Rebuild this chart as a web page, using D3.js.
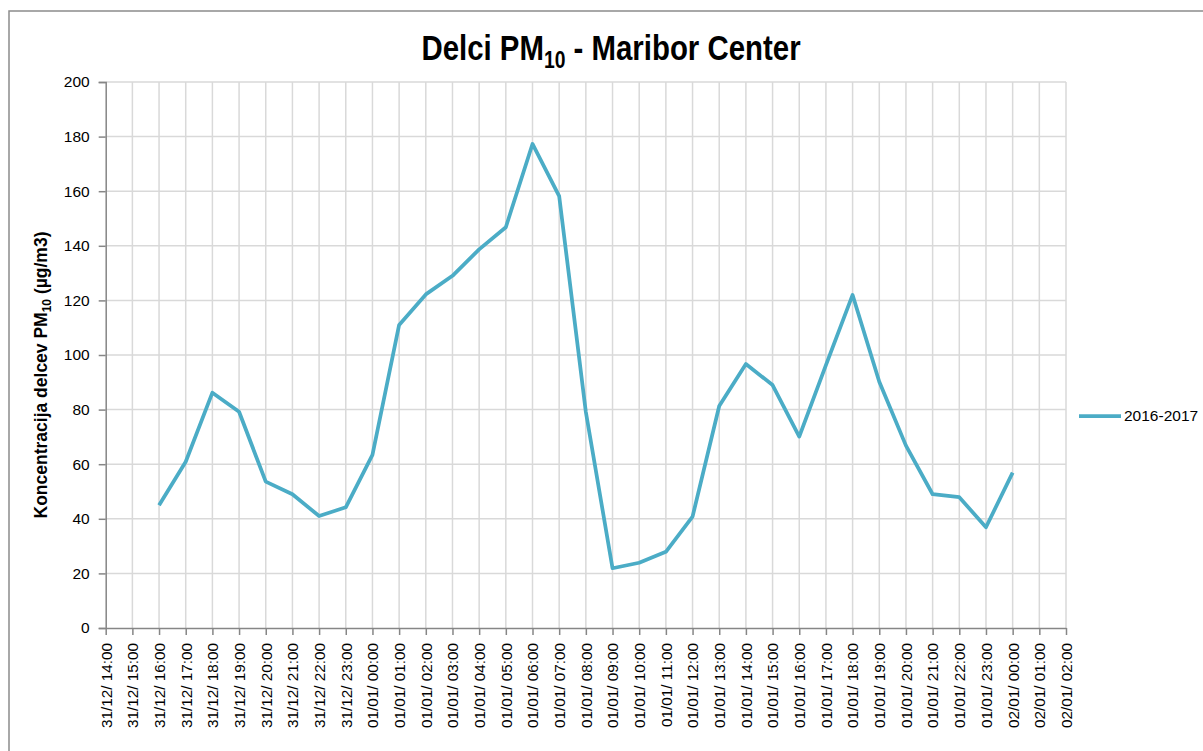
<!DOCTYPE html>
<html>
<head>
<meta charset="utf-8">
<script src="https://cdn.jsdelivr.net/npm/d3@7"></script>
<style>
  body { margin: 0; background: #fff; }
  svg text { font-family: "Liberation Sans", Arial, sans-serif; fill: #000; }
</style>
</head>
<body>
<svg id="chart" width="1203" height="751"></svg>
<script>
// ure (kategorije na osi x)
const hours = [
  "31/12/ 14:00","31/12/ 15:00","31/12/ 16:00","31/12/ 17:00","31/12/ 18:00","31/12/ 19:00",
  "31/12/ 20:00","31/12/ 21:00","31/12/ 22:00","31/12/ 23:00",
  "01/01/ 00:00","01/01/ 01:00","01/01/ 02:00","01/01/ 03:00","01/01/ 04:00","01/01/ 05:00",
  "01/01/ 06:00","01/01/ 07:00","01/01/ 08:00","01/01/ 09:00","01/01/ 10:00","01/01/ 11:00",
  "01/01/ 12:00","01/01/ 13:00","01/01/ 14:00","01/01/ 15:00","01/01/ 16:00","01/01/ 17:00",
  "01/01/ 18:00","01/01/ 19:00","01/01/ 20:00","01/01/ 21:00","01/01/ 22:00","01/01/ 23:00",
  "02/01/ 00:00","02/01/ 01:00","02/01/ 02:00"
]

// PM10 vrednosti (null = ni podatka)
const pm10 = [
  null, null, 45.0, 60.9, 86.2, 79.2, 53.6, 49.0, 41.0, 44.2,
  63.4, 111.0, 122.2, 129.0, 138.7, 146.8, 177.3, 158.2, 79.1, 21.9,
  23.9, 27.9, 40.8, 81.3, 96.7, 89.0, 70.1, 96.3, 122.0, 90.2,
  66.8, 49.0, 47.9, 36.9, 56.9, null, null
]

const yTicks = [0, 20, 40, 60, 80, 100, 120, 140, 160, 180, 200]
const seriesName = "2016-2017"

const svg = d3.select('#chart')
const pLeft = 105.7, pRight = 1066, pTop = 82, pBottom = 628

// okvir
svg.append('rect')
  .attr('x', 9).attr('y', 11)
  .attr('width', 1220).attr('height', 760)
  .attr('fill', 'none').attr('stroke', '#8c8c8c').attr('stroke-width', 1.5)

const x = d3.scalePoint().domain(hours).range([pLeft, pRight])
const y = d3.scaleLinear().domain([0, 200]).range([pBottom, pTop])

// mreza
svg.append('g')
  .selectAll('line')
  .data(yTicks.slice(1))
  .enter().append('line')
  .attr('x1', pLeft).attr('x2', pRight)
  .attr('y1', d => y(d)).attr('y2', d => y(d))
  .attr('stroke', '#d9d9d9').attr('stroke-width', 1.5)

svg.append('g')
  .selectAll('line')
  .data(hours.slice(1))
  .enter().append('line')
  .attr('x1', d => x(d)).attr('x2', d => x(d))
  .attr('y1', pTop).attr('y2', pBottom)
  .attr('stroke', '#d9d9d9').attr('stroke-width', 1.5)

// osi
const yAxis = svg.append('g')
  .attr('transform', `translate(${pLeft},0)`)
  .call(d3.axisLeft(y).tickValues(yTicks).tickSize(7).tickPadding(9))
yAxis.selectAll('text').attr('font-size', '15.5px')
yAxis.selectAll('line, path').attr('stroke', '#868686').attr('stroke-width', 1.5)

const xAxis = svg.append('g')
  .attr('transform', `translate(0,${pBottom})`)
  .call(d3.axisBottom(x).tickSize(7).tickSizeOuter(0))
xAxis.selectAll('line, path').attr('stroke', '#868686').attr('stroke-width', 1.5)
xAxis.selectAll('text')
  .attr('font-size', '15.3px')
  .attr('text-anchor', 'end')
  .attr('transform', 'rotate(-90)')
  .attr('x', -15).attr('y', 0).attr('dy', '0.35em')

// crta
const line = d3.line()
  .defined(d => d.v != null)
  .x(d => x(d.h))
  .y(d => y(d.v))

svg.append('path')
  .datum(hours.map((h, i) => ({ h, v: pm10[i] })))
  .attr('d', line)
  .attr('fill', 'none')
  .attr('stroke', '#4bacc6')
  .attr('stroke-width', 3.75)
  .attr('stroke-linejoin', 'round')

// naslov (ozka pisava - stisnjeno)
const title = svg.append('text')
  .attr('transform', 'translate(611,60) scale(0.84,1)')
  .attr('text-anchor', 'middle')
  .attr('font-size', '35px').attr('font-weight', 'bold')
title.append('tspan').text('Delci PM')
title.append('tspan').attr('font-size', '23px').attr('dy', 8).text('10')
title.append('tspan').attr('dy', -8).text(' - Maribor Center')

// naslov osi y
const yt = svg.append('text')
  .attr('transform', 'translate(47,375) rotate(-90)')
  .attr('text-anchor', 'middle')
  .attr('font-size', '17.5px').attr('font-weight', 'bold')
yt.append('tspan').text('Koncentracija delcev PM')
yt.append('tspan').attr('font-size', '12px').attr('dy', 4).text('10')
yt.append('tspan').attr('dy', -4).text(' (µg/m3)')

// legenda
svg.append('line')
  .attr('x1', 1079).attr('x2', 1121)
  .attr('y1', 416).attr('y2', 416)
  .attr('stroke', '#4bacc6').attr('stroke-width', 3.75)
svg.append('text')
  .attr('x', 1124).attr('y', 416).attr('dy', '0.35em')
  .attr('font-size', '15.5px')
  .text(seriesName)
</script>
</body>
</html>
